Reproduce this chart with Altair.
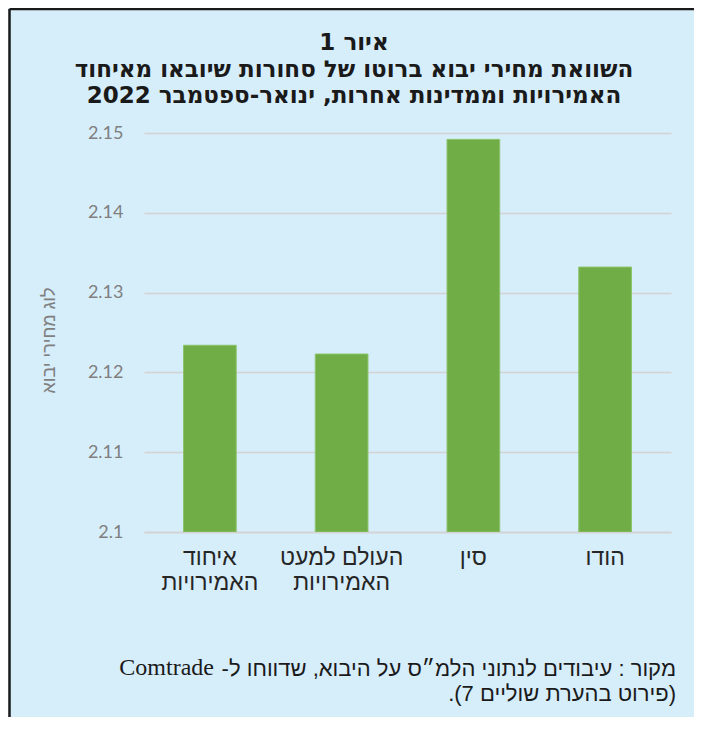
import altair as alt
import pandas as pd

RLE = "\u202B"
PDF = "\u202C"

def rtl(s):
    return RLE + s + PDF

categories = ["איחוד|האמירויות", "העולם למעט|האמירויות", "סין", "הודו"]
values = [2.1234, 2.1223, 2.1492, 2.1332]
y_ticks = [2.10, 2.11, 2.12, 2.13, 2.14, 2.15]

title_lines = [
    "איור 1",
    "השוואת מחירי יבוא ברוטו של סחורות שיובאו מאיחוד",
    "האמירויות וממדינות אחרות, ינואר-ספטמבר 2022",
]
y_title = "לוג מחירי יבוא"
source_lines = [
    "מקור : עיבודים לנתוני הלמ״ס על היבוא, שדווחו ל-",
    "(פירוט בהערת שוליים 7).",
]
source_latin = "Comtrade"

BG = "#d6edfa"

df = pd.DataFrame({"cat": categories, "val": values})

bars = alt.Chart(df).mark_bar(
    color="#70ad47", stroke="#8cc46a", strokeWidth=1, clip=True
).encode(
    x=alt.X(
        "cat:N",
        sort=None,
        title=None,
        scale=alt.Scale(paddingInner=0.6, paddingOuter=0.3),
        axis=alt.Axis(
            labelExpr="split(datum.label, '|')",
            labelAngle=0,
            labelFont="Liberation Sans",
            labelFontSize=23,
            labelColor="#262626",
            labelLineHeight=25,
            labelPadding=14,
            ticks=False,
            domainColor="#d3d3d3",
            domainWidth=1.5,
            grid=False,
        ),
    ),
    y=alt.Y(
        "val:Q",
        scale=alt.Scale(domain=[2.1, 2.15], zero=False, nice=False),
        axis=alt.Axis(
            values=y_ticks,
            format=".2~f",
            title=rtl(y_title),
            titleFont="Liberation Sans",
            titleFontSize=18,
            titleFontWeight="normal",
            titleColor="#7f7f7f",
            titleAngle=270,
            titleAlign="center",
            titleBaseline="middle",
            titleX=-95,
            titleY=207,
            labelFont="Lato",
            labelFontSize=18,
            labelColor="#7f7f7f",
            labelPadding=21,
            ticks=False,
            tickSize=0,
            domain=False,
            grid=True,
            gridColor="#d3d3d3",
            gridWidth=1.5,
        ),
    ),
    y2=alt.datum(2.1),
)

title_df = pd.DataFrame({"t": ["\n".join(rtl(t) for t in title_lines)]})
title = alt.Chart(title_df).mark_text(
    align="center",
    baseline="middle",
    font="DejaVu Sans",
    fontSize=23,
    fontWeight="bold",
    color="#1a1a1a",
    lineBreak="\n",
    lineHeight=26.5,
).encode(text="t:N", x=alt.value(210), y=alt.value(-90))

src_df = pd.DataFrame({"t": [rtl(source_lines[0]) + "\n" + rtl(source_lines[1])]})
source = alt.Chart(src_df).mark_text(
    align="right",
    baseline="middle",
    font="Liberation Sans",
    fontSize=22,
    color="#1a1a1a",
    lineBreak="\n",
    lineHeight=25,
).encode(text="t:N", x=alt.value(532), y=alt.value(536))

latin_df = pd.DataFrame({"t": [source_latin]})
source_l = alt.Chart(latin_df).mark_text(
    align="right",
    baseline="middle",
    font="Liberation Serif",
    fontSize=24,
    color="#1a1a1a",
).encode(text="t:N", x=alt.value(70), y=alt.value(535))

border_df = pd.DataFrame({"k": [0]})
border_v = alt.Chart(border_df).mark_rule(color="#1a1a1a", strokeWidth=2.5).encode(
    x=alt.value(-134.5), y=alt.value(-124), y2=alt.value(620)
)
border_h = alt.Chart(border_df).mark_rule(color="#1a1a1a", strokeWidth=2.5).encode(
    x=alt.value(-134.5), x2=alt.value(600), y=alt.value(-124)
)

chart = alt.layer(bars, title, source, source_l, border_v, border_h).properties(
    width=527,
    height=399,
    background=BG,
    padding={"left": 136, "top": 125, "right": 23, "bottom": 185},
    autosize=alt.AutoSizeParams(type="none"),
).configure_view(stroke=None)

chart.save("out.html", embed_options={"renderer": "svg", "actions": False})
